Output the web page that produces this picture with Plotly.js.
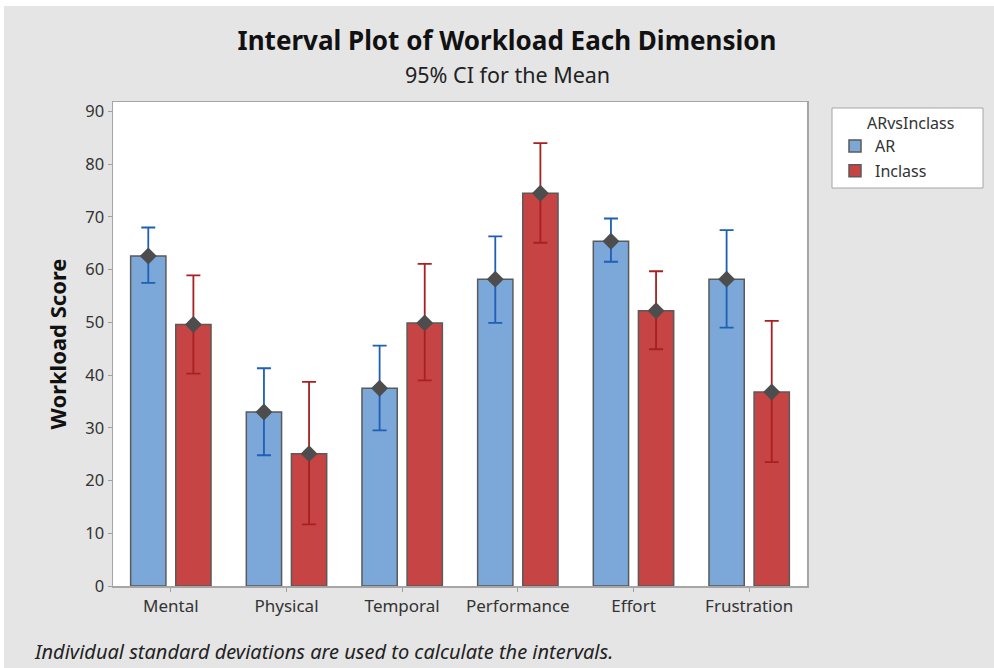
<!DOCTYPE html>
<html>
<head>
<meta charset="utf-8">
<script src="https://cdn.plot.ly/plotly-3.0.1.min.js"></script>
<style>
  html, body { margin: 0; padding: 0; background: #ffffff; }
  #chart { position: absolute; left: 4px; top: 6px; width: 990px; height: 662px; }
</style>
</head>
<body>
<div id="chart"></div>
<script>
// Workload dimensions (NASA-TLX style) compared between groups
const categories = ["Mental", "Physical", "Temporal", "Performance", "Effort", "Frustration"];

// Group means
const arMean      = [62.6, 33.0, 37.5, 58.2, 65.4, 58.2];
const inclassMean = [49.6, 25.1, 49.9, 74.5, 52.2, 36.8];

// 95% CI bounds for the mean
const arUpper      = [68.0, 41.3, 45.6, 66.3, 69.7, 67.5];
const arLower      = [57.5, 24.8, 29.5, 49.9, 61.5, 49.0];
const inclassUpper = [58.9, 38.7, 61.1, 84.0, 59.7, 50.3];
const inclassLower = [40.3, 11.7, 39.0, 65.1, 44.9, 23.5];

const yTicks = [0, 10, 20, 30, 40, 50, 60, 70, 80, 90];

// Grouped bar placement within each category slot
const groupOffset = 0.195;
const barWidth = 0.305;
const idx = categories.map((_, i) => i);

const fontFamily = "'Noto Sans', 'Open Sans', sans-serif";

// Pixel helpers: the plot area spans 109..803 horizontally and 96..580 vertically in the div
const PL = 109, PW = 694, PB = 580, PH = 484;
const px = x => (x - PL) / PW;
const py = y => (PB - y) / PH;

function barTrace(name, means, offset, fill) {
  return {
    type: "bar",
    name: name,
    legendgroup: name,
    x: idx.map(i => i + offset),
    y: means,
    width: barWidth,
    marker: { color: fill, line: { color: "#5a5a5a", width: 1.5 } },
    hoverinfo: "y"
  };
}

function intervalTrace(group, means, upper, lower, offset, color) {
  return {
    type: "scatter",
    mode: "markers",
    legendgroup: group,
    showlegend: false,
    x: idx.map(i => i + offset),
    y: means,
    marker: { symbol: "diamond", size: 13, color: "#4d4d4d" },
    error_y: {
      type: "data",
      symmetric: false,
      array: upper.map((u, i) => u - means[i]),
      arrayminus: means.map((m, i) => m - lower[i]),
      color: color,
      thickness: 1.8,
      width: 7
    }
  };
}

const data = [
  barTrace("AR", arMean, -groupOffset, "#7ba7d9"),
  barTrace("Inclass", inclassMean, groupOffset, "#c64444"),
  intervalTrace("AR", arMean, arUpper, arLower, -groupOffset, "#1f5fb5"),
  intervalTrace("Inclass", inclassMean, inclassUpper, inclassLower, groupOffset, "#a82020")
];

const layout = {
  width: 990,
  height: 662,
  paper_bgcolor: "#e5e5e5",
  plot_bgcolor: "#ffffff",
  margin: { l: PL, r: 990 - PL - PW, t: 96, b: 662 - PB },
  font: { family: fontFamily, color: "#333333" },
  title: {
    text: "<b>Interval Plot of Workload Each Dimension</b>",
    font: { family: fontFamily, size: 26, color: "#111111" },
    xref: "container", yref: "container",
    x: 503 / 990, xanchor: "center",
    y: 1 - 35 / 662, yanchor: "middle"
  },
  xaxis: {
    range: [-0.5, 5.5],
    tickmode: "array",
    tickvals: idx,
    ticktext: categories,
    ticks: "outside",
    ticklen: 4,
    tickcolor: "#a0a0a0",
    tickfont: { size: 17, color: "#333333" },
    showgrid: false,
    zeroline: false,
    showline: true,
    mirror: true,
    linecolor: "#a6a6a6",
    linewidth: 1.5
  },
  yaxis: {
    range: [0, 91.8],
    tickmode: "array",
    tickvals: yTicks,
    ticks: "outside",
    ticklen: 4,
    tickcolor: "#a0a0a0",
    tickfont: { size: 16.5, color: "#333333" },
    showgrid: false,
    zeroline: false,
    showline: true,
    mirror: true,
    linecolor: "#a6a6a6",
    linewidth: 1.5,
    title: {
      text: "<b>Workload Score</b>",
      font: { size: 22, color: "#111111" },
      standoff: 12
    }
  },
  showlegend: true,
  legend: {
    font: { size: 16, color: "#333333" },
    x: px(831),
    xanchor: "left",
    y: py(123),
    yanchor: "top",
    bgcolor: "rgba(0,0,0,0)",
    borderwidth: 0,
    traceorder: "grouped",
    tracegroupgap: 1
  },
  shapes: [
    {
      // legend frame
      type: "rect",
      xref: "paper", yref: "paper",
      x0: px(828), x1: px(979),
      y0: py(182), y1: py(102),
      fillcolor: "#ffffff",
      line: { color: "#a6a6a6", width: 1 },
      layer: "above"
    }
  ],
  annotations: [
    {
      text: "95% CI for the Mean",
      xref: "paper", yref: "paper",
      x: px(503), xanchor: "center",
      y: py(69), yanchor: "middle",
      showarrow: false,
      font: { size: 21.5, color: "#222222" }
    },
    {
      text: "ARvsInclass",
      xref: "paper", yref: "paper",
      x: px(861), xanchor: "left",
      y: py(117), yanchor: "middle",
      showarrow: false,
      font: { size: 16, color: "#333333" }
    },
    {
      text: "<i>Individual standard deviations are used to calculate the intervals.</i>",
      xref: "paper", yref: "paper",
      x: px(28), xanchor: "left",
      y: py(645), yanchor: "middle",
      showarrow: false,
      font: { size: 20, color: "#222222" }
    }
  ]
};

Plotly.newPlot("chart", data, layout, { displayModeBar: false, staticPlot: true });
</script>
</body>
</html>
